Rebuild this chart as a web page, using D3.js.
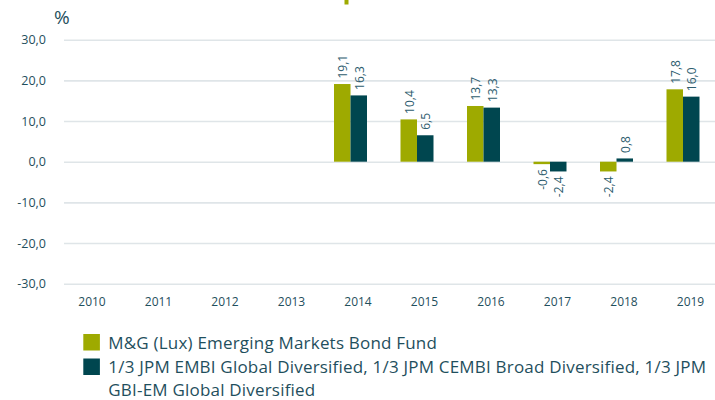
<!DOCTYPE html>
<html>
<head>
<meta charset="utf-8">
<script src="https://cdn.jsdelivr.net/npm/d3@7"></script>
<style>
  body { margin: 0; background: #fff; }
  svg { display: block; font-family: "Open Sans", Lato, sans-serif; }
</style>
</head>
<body>
<svg id="chart" width="715" height="400"></svg>
<script>
const years = ['2010', '2011', '2012', '2013', '2014', '2015', '2016', '2017', '2018', '2019'];
const fund = [null, null, null, null, 19.1, 10.4, 13.7, -0.6, -2.4, 17.8];
const benchmark = [null, null, null, null, 16.3, 6.5, 13.3, -2.4, 0.8, 16.0];
const yTicks = [-30, -20, -10, 0, 10, 20, 30];
const seriesNames = ['M&G (Lux) Emerging Markets Bond Fund',
  '1/3 JPM EMBI Global Diversified, 1/3 JPM CEMBI Broad Diversified, 1/3 JPM GBI-EM Global Diversified'];
// where the second legend entry breaks onto a new line
const legendLines = [
  ['M&G (Lux) Emerging Markets Bond Fund'],
  ['1/3 JPM EMBI Global Diversified, 1/3 JPM CEMBI Broad Diversified, 1/3 JPM', 'GBI-EM Global Diversified']
];

const green = '#9eaa00';
const teal = '#00464f';
const textCol = '#1f4f5d';
const labelCol = '#2e5c6e';

const locale = d3.formatLocale({ decimal: ',', thousands: '.', grouping: [3], currency: ['', ''], minus: '-' });
const fmt = locale.format('.1f');

const svg = d3.select('#chart');

const y = d3.scaleLinear().domain([-30, 30]).range([283.7, 39.7]);
const x = d3.scaleBand().domain(years).range([51.25, 716.25]).padding(0);
const barW = 16.5;

// grid + y labels
const yAxis = svg.append('g')
  .attr('transform', 'translate(64,0)')
  .call(d3.axisLeft(y).tickValues(yTicks).tickFormat(fmt).tickSizeInner(-651).tickSizeOuter(0).tickPadding(18));
yAxis.select('.domain').remove();
yAxis.selectAll('line').attr('stroke', '#dfe5e8').attr('stroke-width', 1.6);
yAxis.selectAll('text').attr('fill', textCol).attr('font-size', 12.5).attr('font-family', '"Open Sans"');

svg.append('text')
  .attr('x', 54).attr('y', 24)
  .attr('fill', textCol)
  .attr('font-size', 19)
  .text('%');

// stray bit of title above the plot
svg.append('rect').attr('x', 344.5).attr('y', 0).attr('width', 4).attr('height', 4.5).attr('fill', green);

// x labels (sit a little to the right of the bar pairs)
const xAxis = svg.append('g')
  .attr('transform', 'translate(7.5,289)')
  .call(d3.axisBottom(x).tickSize(0).tickPadding(8));
xAxis.select('.domain').remove();
xAxis.selectAll('text').attr('fill', textCol).attr('font-size', 12).attr('font-family', '"Open Sans"');

const series = [
  { values: fund, color: green, off: -barW },
  { values: benchmark, color: teal, off: 0 }
];

series.forEach(s => {
  const pts = years.map((yr, i) => ({ yr, v: s.values[i] })).filter(d => d.v !== null);
  const g = svg.append('g');
  g.selectAll('rect')
    .data(pts)
    .enter()
    .append('rect')
    .attr('x', d => x(d.yr) + x.bandwidth() / 2 + s.off)
    .attr('width', barW)
    .attr('y', d => y(Math.max(0, d.v)))
    .attr('height', d => Math.abs(y(d.v) - y(0)))
    .attr('fill', s.color);

  g.selectAll('text')
    .data(pts)
    .enter()
    .append('text')
    .attr('transform', d => {
      const cx = x(d.yr) + x.bandwidth() / 2 + s.off + barW / 2 + 5;
      const ty = d.v >= 0 ? y(d.v) - 5.5 : y(d.v) + 5;
      return `translate(${cx},${ty}) rotate(-90)`;
    })
    .attr('text-anchor', d => d.v >= 0 ? 'start' : 'end')
    .attr('fill', labelCol)
    .attr('font-size', 12)
    .text(d => fmt(d.v));
});

// legend
const legend = svg.append('g');
const legendTop = [334, 358.5];
const legendColors = [green, teal];
legendLines.forEach((lines, i) => {
  legend.append('rect')
    .attr('x', 83.3).attr('y', legendTop[i])
    .attr('width', 16.6).attr('height', 16.5)
    .attr('fill', legendColors[i]);
  const t = legend.append('text')
    .attr('x', 108.3).attr('y', legendTop[i] + 14.8)
    .attr('fill', textCol)
    .attr('font-size', 17)
    .attr('letter-spacing', 0.2);
  t.append('title').text(seriesNames[i]);
  lines.forEach((ln, j) => {
    t.append('tspan').attr('x', 108.3).attr('dy', j === 0 ? 0 : 22.5).text(ln);
  });
});
</script>
</body>
</html>
